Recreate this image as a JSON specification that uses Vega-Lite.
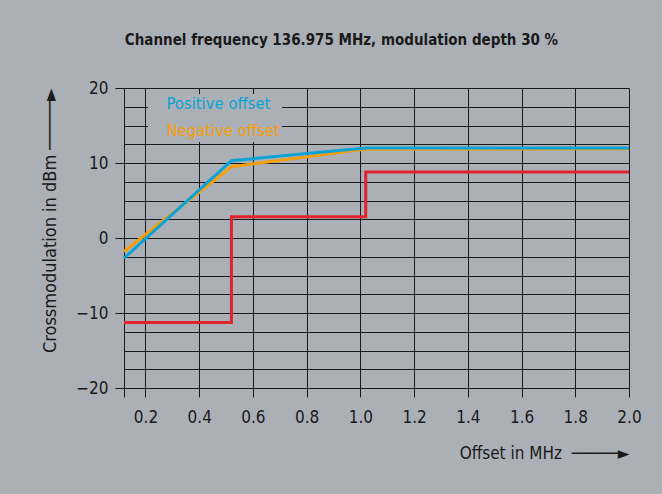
{
  "$schema": "https://vega.github.io/schema/vega-lite/v6.json",
  "width": 505,
  "height": 300,
  "autosize": {"type": "none"},
  "padding": {"left": 124, "top": 88, "right": 33, "bottom": 106},
  "background": "#abb0b6",
  "config": {
    "view": {"stroke": null},
    "font": "DejaVu Sans Condensed, DejaVu Sans, sans-serif"
  },
  "title": {
    "text": "Channel frequency 136.975 MHz, modulation depth 30 %",
    "fontSize": 15,
    "fontWeight": "bold",
    "color": "#1a1a1a",
    "anchor": "middle",
    "frame": "group",
    "dx": -35,
    "offset": 31
  },
  "data": {
    "values": [
      {"series": "Requirement", "offset": 0.12, "dbm": -11.25},
      {"series": "Requirement", "offset": 0.52, "dbm": 2.85},
      {"series": "Requirement", "offset": 1.02, "dbm": 8.8},
      {"series": "Requirement", "offset": 2.0, "dbm": 8.8},
      {"series": "Negative offset", "offset": 0.12, "dbm": -1.8},
      {"series": "Negative offset", "offset": 0.52, "dbm": 9.5},
      {"series": "Negative offset", "offset": 1.02, "dbm": 11.85},
      {"series": "Negative offset", "offset": 2.0, "dbm": 11.9},
      {"series": "Positive offset", "offset": 0.12, "dbm": -2.7},
      {"series": "Positive offset", "offset": 0.52, "dbm": 10.3},
      {"series": "Positive offset", "offset": 1.02, "dbm": 12.0},
      {"series": "Positive offset", "offset": 2.0, "dbm": 12.0}
    ]
  },
  "encoding": {
    "x": {
      "field": "offset",
      "type": "quantitative",
      "scale": {"domain": [0.12, 2.0], "nice": false, "zero": false},
      "axis": {
        "values": [0.12, 0.2, 0.4, 0.6, 0.8, 1.0, 1.2, 1.4, 1.6, 1.8, 2.0],
        "labelExpr": "datum.value < 0.15 ? '' : format(datum.value, '.1f')",
        "grid": true,
        "gridColor": "#1a1a1a",
        "gridWidth": 1,
        "gridOpacity": 1,
        "domain": false,
        "tickSize": 9,
        "tickColor": "#1a1a1a",
        "tickWidth": 1,
        "labelFontSize": 17,
        "labelColor": "#1a1a1a",
        "labelPadding": 12,
        "labelFlush": false,
        "labelOverlap": false,
        "title": "Offset in MHz\u00a0 ─────►",
        "titleAnchor": "end",
        "titleFontSize": 17,
        "titleFontWeight": "normal",
        "titleColor": "#1a1a1a",
        "titlePadding": 20
      }
    },
    "y": {
      "field": "dbm",
      "type": "quantitative",
      "scale": {"domain": [-20, 20], "nice": false, "zero": false},
      "axis": {
        "values": [-20, -17.5, -15, -12.5, -10, -7.5, -5, -2.5, 0, 2.5, 5, 7.5, 10, 12.5, 15, 17.5, 20],
        "labelExpr": "datum.value % 10 === 0 ? format(datum.value, 'd') : ''",
        "grid": true,
        "gridColor": "#1a1a1a",
        "gridWidth": 1,
        "gridOpacity": 1,
        "domain": false,
        "tickSize": 9,
        "tickColor": "#1a1a1a",
        "tickOpacity": {"condition": {"test": "datum.value % 10 === 0", "value": 1}, "value": 0},
        "labelFontSize": 17,
        "labelColor": "#1a1a1a",
        "labelPadding": 7,
        "labelFlush": false,
        "labelOverlap": false,
        "title": "Crossmodulation in dBm  ─────►",
        "titleAnchor": "end",
        "titleFontSize": 18,
        "titleFontWeight": "normal",
        "titleColor": "#1a1a1a",
        "titlePadding": 16
      }
    },
    "color": {
      "field": "series",
      "type": "nominal",
      "scale": {
        "domain": ["Positive offset", "Negative offset", "Requirement"],
        "range": ["#0aa3d5", "#f59d0b", "#e1232f"]
      },
      "legend": {
        "values": ["Positive offset", "Negative offset"],
        "orient": "none",
        "legendX": 24,
        "legendY": 6,
        "title": null,
        "fillColor": "#abb0b6",
        "padding": 2,
        "labelFontSize": 16.5,
        "labelOffset": 0,
        "symbolOpacity": 0,
        "symbolSize": 0,
        "symbolStrokeWidth": 0,
        "rowPadding": 10,
        "labelLimit": 300,
        "encode": {
          "labels": {
            "update": {
              "fill": {"signal": "datum.value === 'Positive offset' ? '#0aa3d5' : '#f59d0b'"}
            }
          }
        }
      }
    }
  },
  "layer": [
    {
      "transform": [{"filter": "datum.series === 'Requirement'"}],
      "mark": {"type": "line", "interpolate": "step-after", "strokeWidth": 3}
    },
    {
      "transform": [{"filter": "datum.series === 'Negative offset'"}],
      "mark": {"type": "line", "strokeWidth": 3}
    },
    {
      "transform": [{"filter": "datum.series === 'Positive offset'"}],
      "mark": {"type": "line", "strokeWidth": 3}
    }
  ]
}
